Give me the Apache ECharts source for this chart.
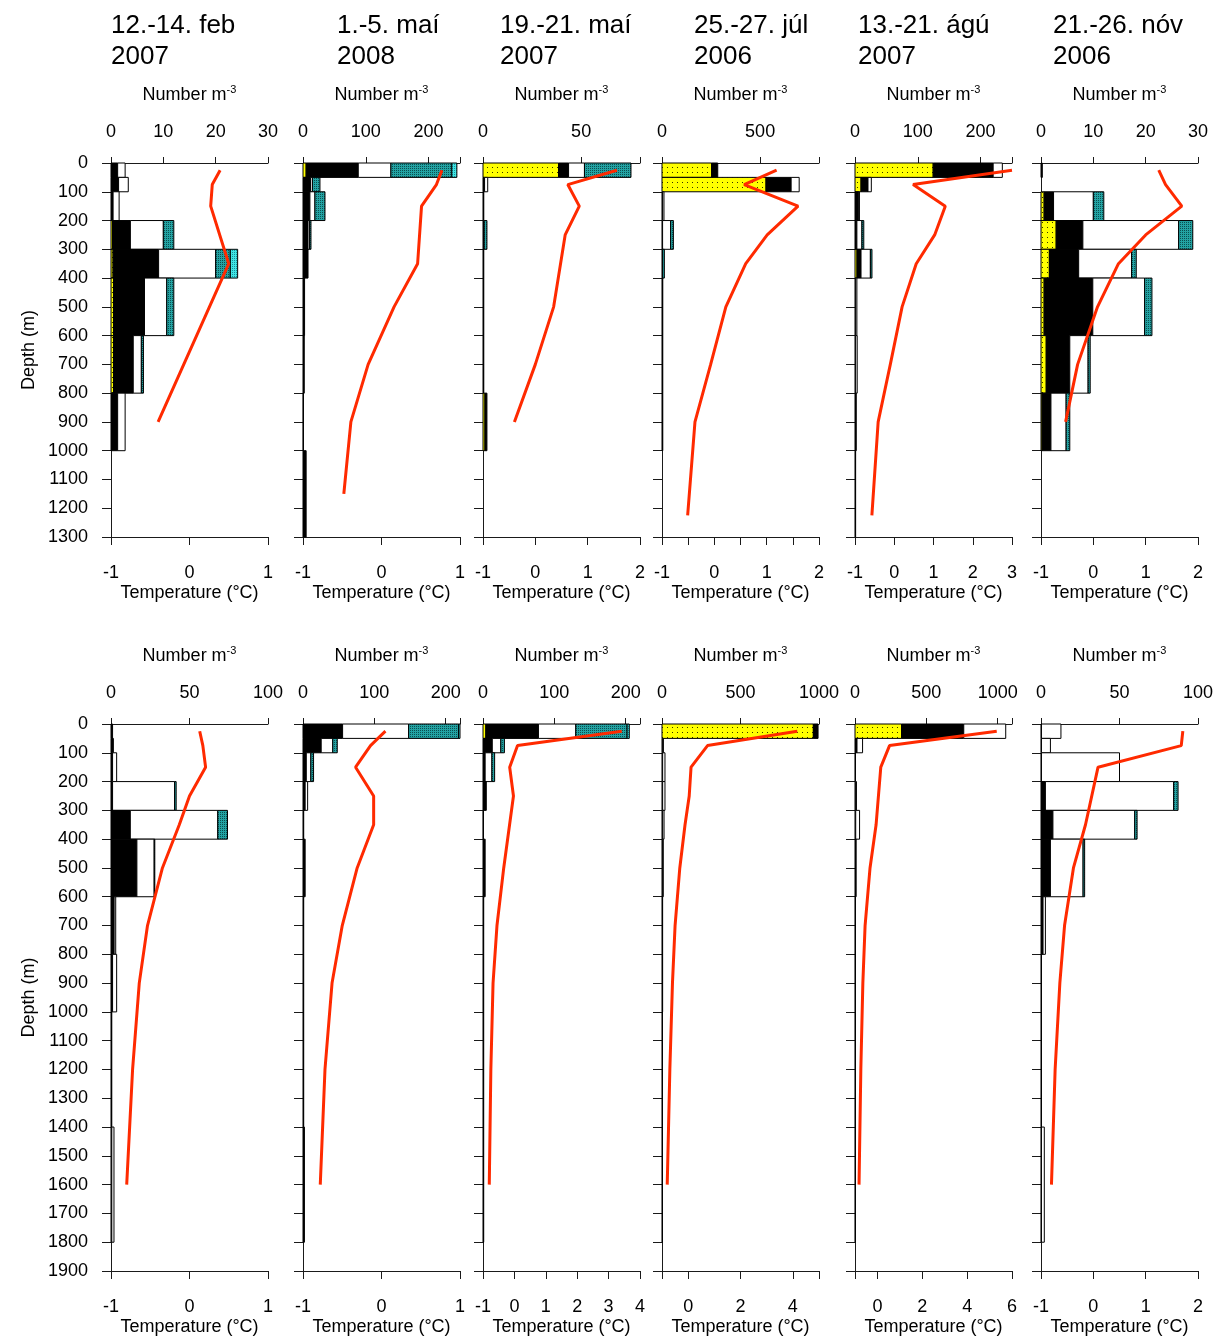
<!DOCTYPE html>
<html><head><meta charset="utf-8">
<script src="https://cdn.jsdelivr.net/npm/echarts@6/dist/echarts.min.js"></script>
<style>html,body{margin:0;padding:0;background:#fff}#c{width:1226px;height:1340px}</style>
</head><body><div id="c"></div><script>
// ---------- DATA ----------
const titles = ['12.-14. feb\n2007', '1.-5. maí\n2008', '19.-21. maí\n2007', '25.-27. júl\n2006', '13.-21. ágú\n2007', '21.-26. nóv\n2006'];

// depth bins (m)
const binTopRow1 = [0, 50, 100, 200, 300, 400, 600, 800, 1000];
const binBotRow1 = [50, 100, 200, 300, 400, 600, 800, 1000, 1300];
const binTopRow2 = [0, 50, 100, 200, 300, 400, 600, 800, 1000, 1400];
const binBotRow2 = [50, 100, 200, 300, 400, 600, 800, 1000, 1400, 1800];

// Row 1 abundances (Number m-3), one array per panel, per component
const yellowRow1 = [
  [0, 0, 0, 0.3, 0.4, 0.5, 0.5, 0, 0],
  [5, 0, 0, 0, 0, 0, 0, 0, 0],
  [38.5, 0, 0, 0, 0, 0, 0, 1, 0],
  [253, 530, 0, 0, 0, 0, 0, 0, 0],
  [124.5, 9.6, 0, 0, 3.2, 0, 0, 0, 0],
  [0, 0, 0.6, 2.9, 1.6, 0.6, 1.0, 0.2, 0]
];
const blackRow1 = [
  [1.27, 1.45, 0.4, 3.4, 8.7, 5.9, 3.75, 1.27, 0],
  [83, 12, 11, 8, 8, 2.5, 2, 0.5, 5],
  [5.1, 0.8, 0.4, 0.3, 0.4, 0.4, 0.4, 1, 0],
  [31, 128, 3, 3, 3, 4, 4, 4, 0],
  [95.5, 11.1, 6, 3, 6.4, 1, 1, 2, 1],
  [0.25, 0, 1.8, 5.1, 5.6, 9.3, 4.5, 1.7, 0]
];
const whiteRow1 = [
  [1.43, 1.85, 1.15, 6.3, 10.9, 4.25, 1.55, 1.43, 0],
  [52, 3, 8, 2.5, 0, 0, 0, 0, 0],
  [8.1, 1.6, 0, 0.3, 0, 0, 0, 0, 0],
  [0, 41, 7, 41, 0, 0, 0, 0, 0],
  [14.6, 5.3, 1, 8, 14.9, 2, 2.5, 0, 0],
  [0, 0, 7.6, 18.3, 10.1, 9.9, 3.5, 2.9, 0]
];
const tealRow1 = [
  [0, 0, 0, 2.0, 2.8, 1.35, 0.4, 0, 0],
  [97, 12, 16, 2.2, 0, 0, 0, 0, 0],
  [23.7, 0, 0, 1.4, 0, 0, 0, 0, 0],
  [0, 0, 0, 14, 9, 0, 0, 0, 0],
  [0, 0, 0, 3, 2.5, 0, 0, 0, 0],
  [0, 0, 2, 2.7, 0.9, 1.4, 0.4, 0.7, 0]
];
const cyanRow1 = [
  [0, 0, 0, 0, 1.4, 0, 0, 0, 0],
  [8, 0, 0, 0, 0, 0, 0, 0, 0],
  [0, 0, 0, 0, 0, 0, 0, 0, 0],
  [0, 0, 0, 0, 0, 0, 0, 0, 0],
  [0, 0, 0, 0, 0, 0, 0, 0, 0],
  [0, 0, 0, 0, 0, 0, 0, 0, 0]
];

// Row 2 abundances
const yellowRow2 = [
  [0, 0, 0, 0, 0, 0, 0, 0, 0, 0],
  [0, 0, 0, 0, 0, 0, 0, 0, 0, 0],
  [4, 0, 0, 0, 0, 0, 0, 0, 0, 0],
  [964, 0, 0, 0, 0, 0, 0, 0, 0, 0],
  [326, 0, 0, 0, 0, 0, 0, 0, 0, 0],
  [0, 0, 0, 0, 0, 0, 0, 0, 0, 0]
];
const blackRow2 = [
  [1, 1.5, 1, 1, 12.3, 16.5, 2, 1, 0.5, 0.5],
  [55.5, 25.5, 4.6, 3, 1, 3, 1, 1, 1, 2],
  [73.7, 13, 3, 4.6, 0.5, 3, 1, 1, 1, 1],
  [30, 4, 4, 4, 4, 4, 4, 4, 3, 3],
  [436, 14, 3, 5, 5, 8, 3, 3, 3, 3],
  [0.3, 0.3, 0.3, 2.8, 7.6, 6, 1.3, 0.3, 0.3, 0.3]
];
const whiteRow2 = [
  [0, 0, 2.6, 39.5, 55.7, 11, 1, 2.6, 0, 1.4],
  [92.5, 16.2, 6.4, 3.5, 0, 0, 0, 0, 0, 0],
  [52.3, 12, 9.5, 0, 0, 0, 0, 0, 0, 0],
  [0, 5, 15, 15, 9, 4, 0, 0, 0, 0],
  [294, 39, 0, 5, 27, 0, 0, 0, 0, 0],
  [12.4, 5.7, 49.7, 81.7, 52.1, 20.8, 1.5, 0, 0, 1.8]
];
const tealRow2 = [
  [0, 0, 0, 1, 6.2, 0.4, 0, 0, 0, 0],
  [70, 6.3, 3.8, 0, 0, 0, 0, 0, 0, 0],
  [72, 5, 3.8, 0, 0, 0, 0, 0, 0, 0],
  [0, 0, 0, 0, 0, 0, 0, 0, 0, 0],
  [0, 0, 0, 0, 0, 0, 0, 0, 0, 0],
  [0, 0, 0, 2.8, 1.5, 1, 0, 0, 0, 0]
];
const cyanRow2 = [
  [0, 0, 0, 0, 0, 0, 0, 0, 0, 0],
  [2, 0, 0, 0, 0, 0, 0, 0, 0, 0],
  [3, 0, 0, 0, 0, 0, 0, 0, 0, 0],
  [0, 0, 0, 0, 0, 0, 0, 0, 0, 0],
  [0, 0, 0, 0, 0, 0, 0, 0, 0, 0],
  [0, 0, 0, 0, 0, 0, 0, 0, 0, 0]
];

// Temperature profiles (°C) at depths (m)
const tempDepthRow1 = [
  [25, 75, 150, 350, 900],
  [25, 75, 150, 350, 500, 700, 900, 1150],
  [25, 75, 150, 250, 500, 700, 900],
  [25, 75, 150, 250, 350, 500, 700, 900, 1225],
  [25, 75, 150, 250, 350, 500, 700, 900, 1225],
  [25, 75, 150, 250, 350, 500, 700, 900]
];
const tempRow1 = [
  [0.39, 0.29, 0.27, 0.50, -0.40],
  [0.77, 0.70, 0.51, 0.46, 0.16, -0.17, -0.39, -0.48],
  [1.56, 0.62, 0.84, 0.57, 0.35, 0.0, -0.40],
  [1.19, 0.57, 1.60, 1.01, 0.60, 0.22, -0.07, -0.37, -0.51],
  [3.0, 0.48, 1.30, 1.03, 0.56, 0.20, -0.10, -0.41, -0.57],
  [1.25, 1.38, 1.69, 1.0, 0.48, 0.08, -0.30, -0.53]
];
const tempDepthRow2 = [
  [25, 75, 150, 250, 350, 500, 700, 900, 1200, 1600],
  [25, 75, 150, 250, 350, 500, 700, 900, 1200, 1600],
  [25, 75, 150, 250, 500, 700, 900, 1200, 1600],
  [25, 75, 150, 250, 350, 500, 700, 900, 1200, 1600],
  [25, 75, 150, 350, 500, 700, 900, 1200, 1600],
  [25, 75, 150, 350, 500, 700, 900, 1200, 1600]
];
const tempRow2 = [
  [0.13, 0.17, 0.205, 0.0, -0.13, -0.345, -0.535, -0.64, -0.725, -0.80],
  [0.05, -0.14, -0.33, -0.10, -0.10, -0.31, -0.50, -0.63, -0.72, -0.78],
  [3.42, 0.10, -0.15, -0.03, -0.34, -0.555, -0.68, -0.75, -0.80],
  [4.17, 0.74, 0.11, 0.04, -0.12, -0.32, -0.50, -0.60, -0.70, -0.80],
  [5.32, 0.54, 0.15, -0.06, -0.33, -0.55, -0.65, -0.74, -0.82],
  [1.71, 1.68, 0.09, -0.15, -0.38, -0.55, -0.64, -0.73, -0.80]
];

// Axis ranges / tick labels
const numMaxRow1 = [30, 250, 80, 800, 250, 30];
const numLabelsRow1 = [[0, 10, 20, 30], [0, 100, 200], [0, 50], [0, 500], [0, 100, 200], [0, 10, 20, 30]];
const numMaxRow2 = [100, 220, 220, 1000, 1100, 100];
const numLabelsRow2 = [[0, 50, 100], [0, 100, 200], [0, 100, 200], [0, 500, 1000], [0, 500, 1000], [0, 50, 100]];
const tMinRow1 = [-1, -1, -1, -1, -1, -1];
const tMaxRow1 = [1, 1, 2, 2, 3, 2];
const tLabelsRow1 = [[-1, 0, 1], [-1, 0, 1], [-1, 0, 1, 2], [-1, 0, 1, 2], [-1, 0, 1, 2, 3], [-1, 0, 1, 2]];
const tTicksRow1 = [[-1, 0, 1], [-1, 0, 1], [-1, 0, 1, 2], [-1, -0.5, 0, 0.5, 1, 1.5, 2], [-1, 0, 1, 2, 3], [-1, 0, 1, 2]];
const tMinRow2 = [-1, -1, -1, -1, -1, -1];
const tMaxRow2 = [1, 1, 4, 5, 6, 2];
const tLabelsRow2 = [[-1, 0, 1], [-1, 0, 1], [-1, 0, 1, 2, 3, 4], [0, 2, 4], [0, 2, 4, 6], [-1, 0, 1, 2]];
const tTicksRow2 = [[-1, 0, 1], [-1, 0, 1], [-1, 0, 1, 2, 3, 4], [-1, 0, 2, 4, 5], [-1, 0, 2, 4, 6], [-1, 0, 1, 2]];
const depthMax = [1300, 1900];

// ---------- LAYOUT / STYLE ----------
const FONT = '"Liberation Sans", Arial, Helvetica, sans-serif';
const colLeft = [111, 303, 483, 662, 855, 1041];
const titleLeft = [111, 337, 500, 694, 858, 1053];
const plotW = 157;
const rowTop = [163, 724];
const rowH = [374, 547];
const plain = v => String(v);

function makePattern(bg, dot, size, pts, d) {
  const c = document.createElement('canvas');
  c.width = c.height = size;
  const ctx = c.getContext('2d');
  ctx.fillStyle = bg; ctx.fillRect(0, 0, size, size);
  ctx.fillStyle = dot;
  pts.forEach(p => ctx.fillRect(p[0], p[1], d, d));
  return { image: c, repeat: 'repeat' };
}
const fills = [
  makePattern('#ffff00', '#333300', 5, [[2, 2]], 1),
  '#000000',
  '#ffffff',
  makePattern('#23a3a3', '#0b4f50', 2, [[0, 0]], 1),
  makePattern('#3fe6e6', '#1a8f99', 2, [[0, 0]], 1)
];

const chart = echarts.init(document.getElementById('c'), null, { renderer: 'canvas' });
const grids = [], xAxes = [], yAxes = [], series = [];

function addPanel(row, col) {
  const g = row * 6 + col;
  const comps = row === 0
    ? [yellowRow1[col], blackRow1[col], whiteRow1[col], tealRow1[col], cyanRow1[col]]
    : [yellowRow2[col], blackRow2[col], whiteRow2[col], tealRow2[col], cyanRow2[col]];
  const bt = row === 0 ? binTopRow1 : binTopRow2;
  const bb = row === 0 ? binBotRow1 : binBotRow2;
  const nMax = row === 0 ? numMaxRow1[col] : numMaxRow2[col];
  const nLab = row === 0 ? numLabelsRow1[col] : numLabelsRow2[col];
  const tMin = row === 0 ? tMinRow1[col] : tMinRow2[col];
  const tMax = row === 0 ? tMaxRow1[col] : tMaxRow2[col];
  const tLab = row === 0 ? tLabelsRow1[col] : tLabelsRow2[col];
  const tTick = row === 0 ? tTicksRow1[col] : tTicksRow2[col];
  const tD = row === 0 ? tempDepthRow1[col] : tempDepthRow2[col];
  const tV = row === 0 ? tempRow1[col] : tempRow2[col];

  grids.push({ left: colLeft[col], top: rowTop[row], width: plotW, height: rowH[row] });
  const axisCol = '#1a1a1a';
  // number axis (top)
  xAxes.push({
    gridIndex: g, type: 'value', position: 'top', min: 0, max: nMax,
    axisLine: { show: true, onZero: false, lineStyle: { color: axisCol, width: 1 } },
    axisTick: { show: true, length: 6, customValues: nLab.concat([nMax]), lineStyle: { color: axisCol } },
    axisLabel: { fontSize: 18, color: '#000', fontFamily: FONT, margin: 22, customValues: nLab, formatter: plain },
    splitLine: { show: false },
    name: '{a|Number m}{s|-3}', nameLocation: 'middle', nameGap: 57,
    nameTextStyle: { rich: {
      a: { fontSize: 18, fontFamily: FONT, color: '#000', lineHeight: 22 },
      s: { fontSize: 11, fontFamily: FONT, color: '#000', lineHeight: 22, verticalAlign: 'top' }
    } }
  });
  // temperature axis (bottom)
  xAxes.push({
    gridIndex: g, type: 'value', position: 'bottom', min: tMin, max: tMax,
    axisLine: { show: true, onZero: false, lineStyle: { color: axisCol, width: 1 } },
    axisTick: { show: true, length: 8, customValues: tTick, lineStyle: { color: axisCol } },
    axisLabel: { fontSize: 18, color: '#000', fontFamily: FONT, margin: 27, customValues: tLab, formatter: plain },
    splitLine: { show: false },
    name: 'Temperature (°C)', nameLocation: 'middle', nameGap: 47,
    nameTextStyle: { fontSize: 18, color: '#000', fontFamily: FONT }
  });
  // depth axis
  yAxes.push({
    gridIndex: g, type: 'value', inverse: true, min: 0, max: depthMax[row], interval: 100,
    axisLine: { show: true, onZero: false, lineStyle: { color: axisCol, width: 1 } },
    axisTick: { show: true, length: 9, lineStyle: { color: axisCol } },
    axisLabel: { show: col === 0, fontSize: 18, color: '#000', fontFamily: FONT, margin: 23, formatter: plain },
    splitLine: { show: false },
    name: col === 0 ? 'Depth (m)' : '', nameLocation: 'middle', nameGap: 73, nameRotate: 90,
    nameTextStyle: { fontSize: 18, color: '#000', fontFamily: FONT }
  });

  // stacked bars
  const data = [];
  for (let i = 0; i < bt.length; i++) {
    let acc = 0;
    for (let c = 0; c < comps.length; c++) {
      const v = comps[c][i];
      if (v > 0) { data.push([acc, acc + v, bt[i], bb[i], c]); acc += v; }
    }
  }
  series.push({
    type: 'custom', xAxisIndex: 2 * g, yAxisIndex: g, z: 2,
    encode: { x: [0, 1], y: [2, 3] },
    renderItem: function (params, api) {
      const p0 = api.coord([api.value(0), api.value(2)]);
      const p1 = api.coord([api.value(1), api.value(3)]);
      return {
        type: 'rect',
        shape: { x: p0[0], y: p0[1], width: p1[0] - p0[0], height: p1[1] - p0[1] },
        style: { fill: fills[api.value(4)], stroke: '#000', lineWidth: 1 }
      };
    },
    data: data, silent: true, animation: false
  });
  // temperature line
  series.push({
    type: 'line', xAxisIndex: 2 * g + 1, yAxisIndex: g, z: 5,
    data: tD.map((d, i) => [tV[i], d]),
    showSymbol: false, symbol: 'none',
    lineStyle: { color: '#ff2a00', width: 3 },
    animation: false, silent: true
  });
}
for (let r = 0; r < 2; r++) for (let c = 0; c < 6; c++) addPanel(r, c);

chart.setOption({
  backgroundColor: '#fff',
  animation: false,
  title: titles.map((t, i) => ({
    text: t, left: titleLeft[i], top: 10, padding: 0,
    textStyle: { fontSize: 26, fontWeight: 'normal', fontFamily: FONT, color: '#000', lineHeight: 31 }
  })),
  grid: grids, xAxis: xAxes, yAxis: yAxes, series: series
});
</script></body></html>
